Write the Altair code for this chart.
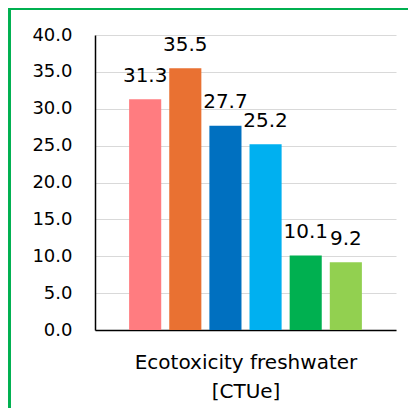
import altair as alt
import pandas as pd

bars = ["Bar 1", "Bar 2", "Bar 3", "Bar 4", "Bar 5", "Bar 6"]
values = [31.3, 35.5, 27.7, 25.2, 10.1, 9.2]
colors = ["#FF7C80", "#E97132", "#0070C0", "#00B0F0", "#00B050", "#92D050"]
y_ticks = [0, 5, 10, 15, 20, 25, 30, 35, 40]
x_title = ["Ecotoxicity freshwater", "[CTUe]"]

df = pd.DataFrame({"bar": bars, "value": values})

FONT = "DejaVu Sans"

x = alt.X("bar:N", sort=bars,
          scale=alt.Scale(paddingInner=0.2, paddingOuter=0.85),
          axis=alt.Axis(labels=False, ticks=False, title=x_title, titleFont=FONT,
                        titleFontSize=20, titleFontWeight="normal", titleColor="#000000",
                        titleLineHeight=29, titlePadding=22, domainColor="#000000",
                        domainWidth=1.5, grid=False))
y = alt.Y("value:Q", scale=alt.Scale(domain=[0, 40], nice=False),
          axis=alt.Axis(values=y_ticks, format=".1f", title=None, ticks=False,
                        labelOverlap=False, labelFlush=False,
                        labelFont=FONT, labelFontSize=18, labelColor="#000000",
                        labelPadding=23, domainColor="#000000", domainWidth=1.5,
                        gridColor="#D9D9D9", gridWidth=1))

base = alt.Chart(df)

bar_layer = base.mark_bar().encode(
    x=x, y=y,
    color=alt.Color("bar:N", sort=bars, scale=alt.Scale(domain=bars, range=colors), legend=None),
)

text_layer = base.mark_text(font=FONT, fontSize=20, color="#000000",
                            baseline="alphabetic", dy=-17.5).encode(
    x=x, y=y, text=alt.Text("value:Q", format=".1f"))

border = base.mark_rect(filled=False, stroke="#00B050", strokeWidth=2).encode(
    x=alt.value(-85.5), x2=alt.value(420), y=alt.value(-26), y2=alt.value(420))

chart = alt.layer(bar_layer, text_layer, border).properties(
    width=301, height=295,
    autosize=alt.AutoSizeParams(type="none"),
    padding={"left": 87, "top": 27, "right": 12, "bottom": 78},
).configure_view(stroke=None)

chart.save("out.html", embed_options={"renderer": "svg", "actions": False})
